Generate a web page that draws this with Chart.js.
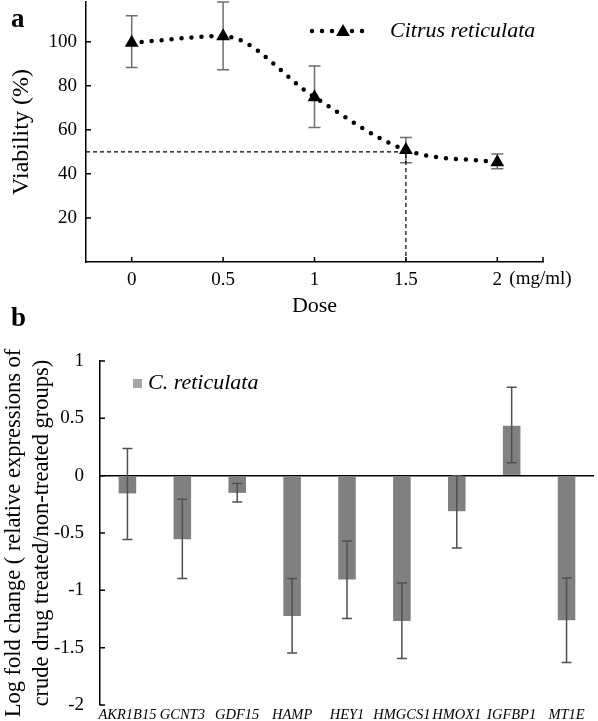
<!DOCTYPE html>
<html>
<head>
<meta charset="utf-8">
<script src="https://cdn.jsdelivr.net/npm/chart.js"></script>
<style>
  body { margin: 0; background: #fff; width: 598px; height: 721px; position: relative; overflow: hidden; }
  .panel { position: absolute; left: 0; width: 598px; }
  #wrapA { top: 0; height: 320px; }
  #wrapB { top: 300px; height: 421px; }
</style>
</head>
<body>
<div class="panel" id="wrapA"><canvas id="chartA"></canvas></div>
<div class="panel" id="wrapB"><canvas id="chartB"></canvas></div>
<script>
// panel a - cell viability
var doses = [0, 0.5, 1, 1.5, 2];
var viability = [99.5, 102.5, 74.8, 50.8, 45.3];
var viabilityLow = [88.3, 87.3, 61, 45, 42.3];
var viabilityHigh = [111.8, 118, 89, 56.5, 49];
var doseTicks = [0, 0.5, 1, 1.5, 2];
var viabilityTicks = [20, 40, 60, 80, 100];
var ic50Dose = [-0.25, 1.5, 1.5];
var ic50Viab = [50, 50, 0];

// panel b - gene expression
var genes = ["AKR1B15", "GCNT3", "GDF15", "HAMP", "HEY1", "HMGCS1", "HMOX1", "IGFBP1", "MT1E"];
var foldChange = [-0.155, -0.554, -0.15, -1.223, -0.906, -1.267, -0.31, 0.435, -1.26];
var foldLow = [-0.557, -0.897, -0.229, -1.546, -1.246, -1.595, -0.63, 0.112, -1.63];
var foldHigh = [0.237, -0.205, -0.068, -0.897, -0.569, -0.935, 0, 0.77, -0.892];

var serif = "'Liberation Serif', 'DejaVu Serif', serif";

function errorBars(id, low, high, color, cap, after) {
    var draw = function (chart) {
        var ctx = chart.ctx;
        var meta = chart.getDatasetMeta(0);
        var ys = chart.scales.y;
        ctx.save();
        ctx.strokeStyle = color;
        ctx.lineWidth = 1.5;
        meta.data.forEach(function (el, i) {
            var x = el.x;
            var y1 = ys.getPixelForValue(low[i]);
            var y2 = ys.getPixelForValue(high[i]);
            ctx.beginPath();
            ctx.moveTo(x, y1); ctx.lineTo(x, y2);
            ctx.moveTo(x - cap, y1); ctx.lineTo(x + cap, y1);
            ctx.moveTo(x - cap, y2); ctx.lineTo(x + cap, y2);
            ctx.stroke();
        });
        ctx.restore();
    };
    var p = { id: id };
    if (after) p.afterDatasetsDraw = draw; else p.beforeDatasetsDraw = draw;
    return p;
}

// small tick marks that point into the plot
function innerTicks(id, yVals, xVals, len) {
    return {
        id: id,
        afterDraw: function (chart) {
            var ctx = chart.ctx;
            var a = chart.chartArea;
            ctx.save();
            ctx.strokeStyle = "#000";
            ctx.lineWidth = 1.5;
            ctx.beginPath();
            yVals.forEach(function (v) {
                var y = chart.scales.y.getPixelForValue(v);
                ctx.moveTo(a.left, y); ctx.lineTo(a.left + len, y);
            });
            xVals.forEach(function (v) {
                var x = chart.scales.x.getPixelForValue(v);
                ctx.moveTo(x, a.bottom); ctx.lineTo(x, a.bottom - len);
            });
            ctx.stroke();
            ctx.restore();
        }
    };
}

function drawTriangle(ctx, x, y, r) {
    ctx.beginPath();
    ctx.moveTo(x, y - r);
    ctx.lineTo(x + r * 0.866, y + r * 0.5);
    ctx.lineTo(x - r * 0.866, y + r * 0.5);
    ctx.closePath();
    ctx.fill();
}

var extrasA = {
    id: "extrasA",
    afterDraw: function (chart) {
        var ctx = chart.ctx;
        ctx.save();
        ctx.fillStyle = "#000";
        ctx.textBaseline = "middle";
        ctx.font = "bold 27px " + serif;
        ctx.fillText("a", 11, 20);
        // unit next to the last dose tick
        var x2 = chart.scales.x.getPixelForValue(2);
        ctx.font = "19px " + serif;
        ctx.fillText("(mg/ml)", x2 + 12, 279);
        // legend
        ctx.strokeStyle = "#000";
        ctx.lineWidth = 4.5;
        ctx.lineCap = "round";
        ctx.setLineDash([0, 10]);
        ctx.beginPath();
        ctx.moveTo(312, 31); ctx.lineTo(366, 31);
        ctx.stroke();
        ctx.setLineDash([]);
        drawTriangle(ctx, 343, 32, 8);
        ctx.font = "italic 22px " + serif;
        ctx.fillText("Citrus reticulata", 390, 31);
        ctx.restore();
    }
};

var extrasB = {
    id: "extrasB",
    afterDraw: function (chart) {
        var ctx = chart.ctx;
        ctx.save();
        ctx.fillStyle = "#000";
        ctx.textBaseline = "middle";
        ctx.font = "bold 27px " + serif;
        ctx.fillText("b", 11, 19);
        ctx.fillStyle = "#a6a6a6";
        ctx.fillRect(133, 79, 9, 9);
        ctx.fillStyle = "#000";
        ctx.font = "italic 22px " + serif;
        ctx.fillText("C. reticulata", 148, 83);
        ctx.restore();
    }
};

new Chart("chartA", {
    type: "line",
    data: {
        datasets: [{
            label: "Citrus reticulata",
            data: doses.map(function (d, i) { return { x: d, y: viability[i] }; }),
            borderColor: "#000",
            borderWidth: 4.5,
            borderDash: [0, 10],
            borderCapStyle: "round",
            cubicInterpolationMode: "monotone",
            pointStyle: "triangle",
            pointRadius: 8,
            pointBackgroundColor: "#000",
            pointBorderColor: "#000",
            pointBorderWidth: 0
        }, {
            label: "IC50",
            data: ic50Dose.map(function (d, i) { return { x: d, y: ic50Viab[i] }; }),
            borderColor: "#000",
            borderWidth: 1.2,
            borderDash: [4, 3],
            tension: 0,
            pointRadius: 0
        }]
    },
    options: {
        responsive: true,
        maintainAspectRatio: false,
        animation: false,
        layout: { autoPadding: false, padding: { top: 2, right: 55, left: 0, bottom: 0 } },
        plugins: { legend: { display: false }, tooltip: { enabled: false } },
        scales: {
            x: {
                type: "linear",
                min: -0.25,
                max: 2.25,
                afterBuildTicks: function (s) { s.ticks = doseTicks.map(function (v) { return { value: v }; }); },
                afterFit: function (s) { s.height = 58; s.paddingLeft = 0; s.paddingRight = 0; },
                grid: { display: false, drawTicks: false },
                border: { display: true, color: "#000", width: 1.5 },
                ticks: { color: "#000", padding: 7, font: { family: serif, size: 19 }, callback: function (v) { return String(v); } },
                title: { display: true, text: "Dose", color: "#000", font: { family: serif, size: 22 }, padding: { top: 0, bottom: 1 } }
            },
            y: {
                min: 0,
                max: 118,
                afterBuildTicks: function (s) { s.ticks = viabilityTicks.map(function (v) { return { value: v }; }); },
                afterFit: function (s) { s.width = 86; s.paddingTop = 0; s.paddingBottom = 0; },
                grid: { display: false, drawTicks: false },
                border: { display: true, color: "#000", width: 1.5 },
                ticks: { color: "#000", padding: 9, font: { family: serif, size: 19 } },
                title: { display: true, text: "Viability (%)", color: "#000", font: { family: serif, size: 24 }, padding: { top: 7, bottom: 0 } }
            }
        }
    },
    plugins: [errorBars("errA", viabilityLow, viabilityHigh, "#6e6e6e", 6, false), innerTicks("ticksA", viabilityTicks, doseTicks.concat([2.25]), 5), extrasA]
});

new Chart("chartB", {
    type: "bar",
    data: {
        labels: genes,
        datasets: [{
            label: "C. reticulata",
            data: foldChange,
            backgroundColor: "#808080",
            barPercentage: 0.32,
            categoryPercentage: 1
        }]
    },
    options: {
        responsive: true,
        maintainAspectRatio: false,
        animation: false,
        layout: { autoPadding: false, padding: { top: 61, right: 4, left: 0, bottom: 0 } },
        plugins: { legend: { display: false }, tooltip: { enabled: false } },
        scales: {
            x: {
                afterFit: function (s) { s.height = 16; s.paddingLeft = 0; s.paddingRight = 0; },
                grid: { display: false, drawTicks: false },
                border: { display: false },
                ticks: { color: "#000", padding: 1, autoSkip: false, maxRotation: 0, minRotation: 0, font: { family: serif, size: 14.5, style: "italic" } }
            },
            y: {
                min: -2,
                max: 1,
                afterFit: function (s) { s.width = 100; s.paddingTop = 0; s.paddingBottom = 0; },
                grid: {
                    drawTicks: false,
                    color: function (c) { return c.tick && c.tick.value === 0 ? "#000" : "rgba(0,0,0,0)"; },
                    lineWidth: 1.5
                },
                border: { display: true, color: "#000", width: 1.5 },
                ticks: { stepSize: 0.5, color: "#000", padding: 16, font: { family: serif, size: 19 }, callback: function (v) { return String(v); } },
                title: {
                    display: true,
                    text: ["Log fold change ( relative expressions of", "crude drug treated/non-treated groups)"],
                    color: "#000",
                    font: { family: serif, size: 22.5, lineHeight: 1.25 },
                    padding: { top: 0, bottom: 0 }
                }
            }
        }
    },
    plugins: [errorBars("errB", foldLow, foldHigh, "#505050", 5, true), innerTicks("ticksB", [1, 0.5, 0, -0.5, -1, -1.5, -2], [], 5), extrasB]
});
</script>
</body>
</html>
